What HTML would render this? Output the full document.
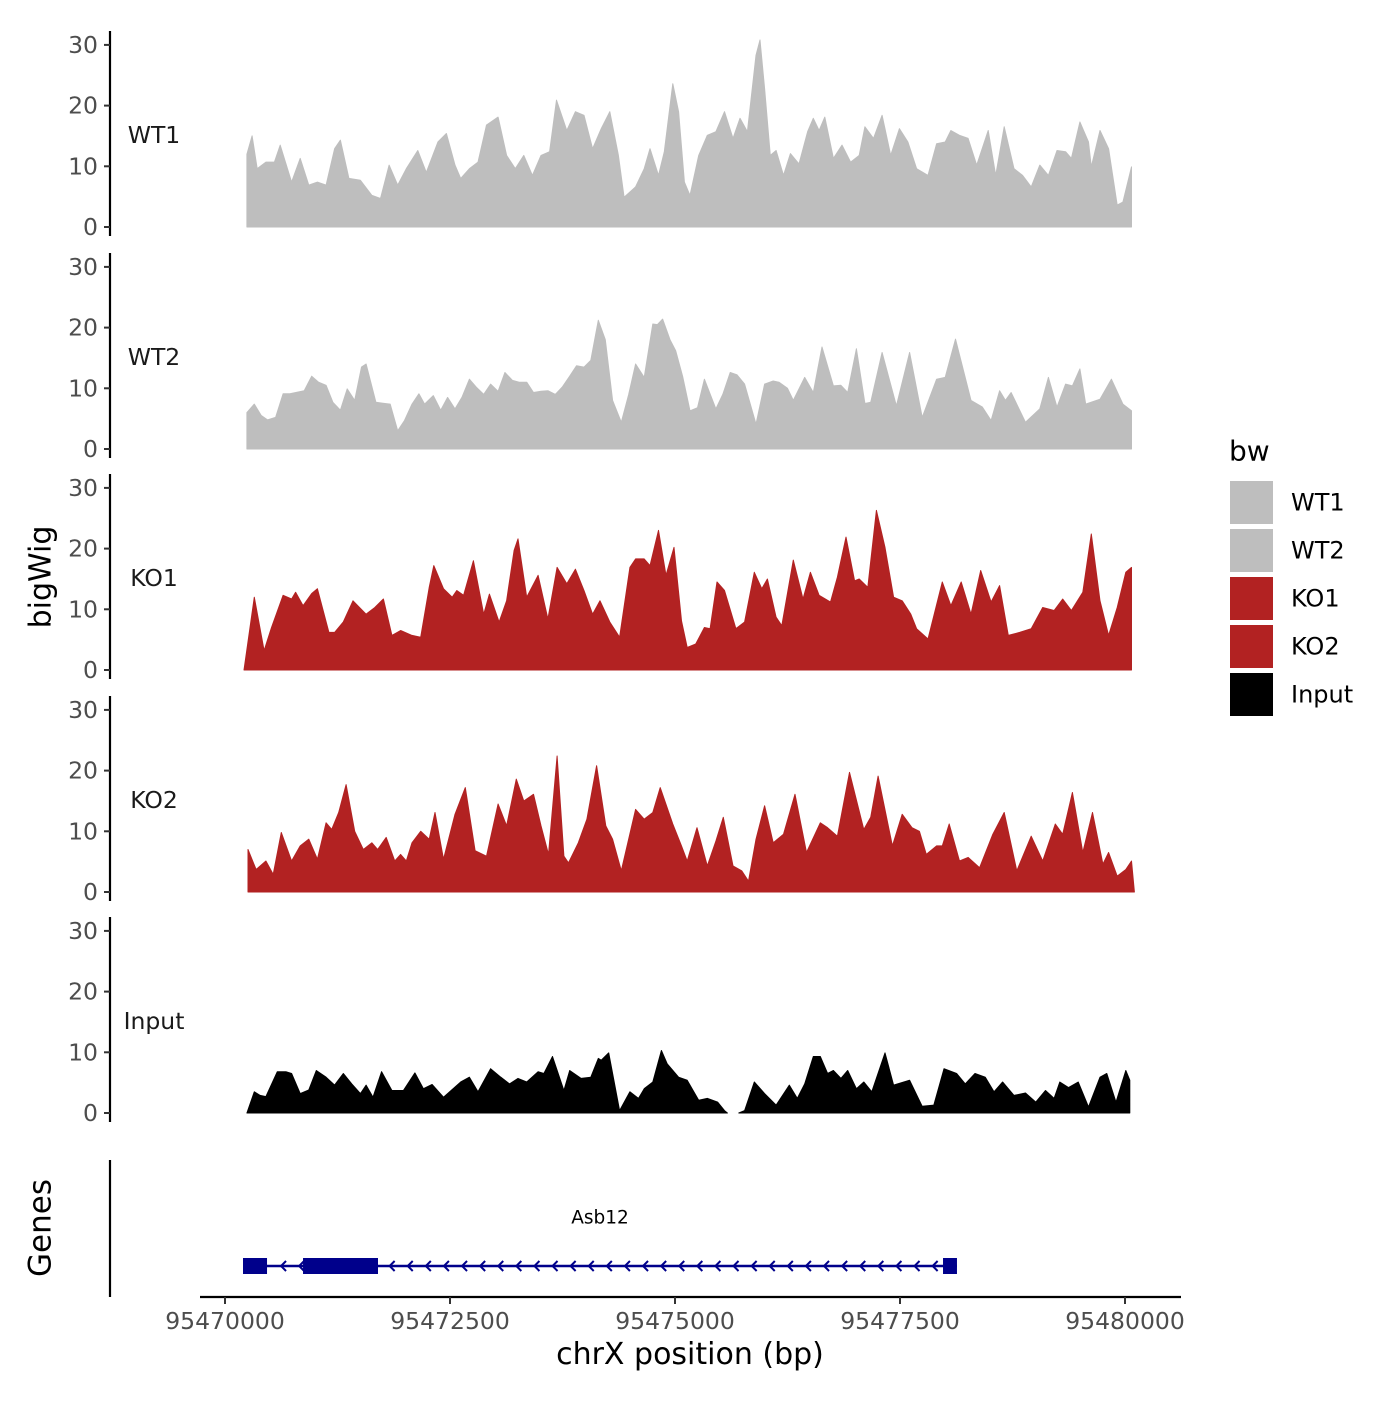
<!DOCTYPE html>
<html><head><meta charset="utf-8"><style>
body{margin:0;background:#fff;}
svg text{font-family:"DejaVu Sans","Liberation Sans",sans-serif;}
</style></head><body>
<svg id="chart" width="1400" height="1400" xmlns="http://www.w3.org/2000/svg">
<rect width="1400" height="1400" fill="#fff"/>
<g id="tracks"></g>
<g id="genes"></g>
<g id="xaxis"></g>
<text x="42" y="577" font-size="30" text-anchor="middle" dominant-baseline="middle" transform="rotate(-90 42 577)">bigWig</text>
<text x="42" y="1228" font-size="31" text-anchor="middle" dominant-baseline="middle" transform="rotate(-90 42 1228)">Genes</text>
<text x="690" y="1364" font-size="30" text-anchor="middle">chrX position (bp)</text>
<g id="legend"></g>
</svg>
<script>
const regionStart = 95470000;
const trackNames = ["WT1","WT2","KO1","KO2","Input"];
const trackColors = ["#BEBEBE","#BEBEBE","#B22222","#B22222","#000000"];
const yTicks = [0,10,20,30];
const xTicks = [95470000,95472500,95475000,95477500,95480000];
const xTickLabels = ["95470000","95472500","95475000","95477500","95480000"];

const wt1Pos = [243,301,358,454,549,613,740,836,931,1027,1123,1218,1282,1377,1505,1632,1728,1823,1919,2014,2142,2237,2365,2460,2556,2619,2715,2811,2906,3034,3129,3225,3320,3416,3511,3607,3683,3798,3893,3989,4085,4180,4276,4371,4435,4562,4658,4722,4817,4881,4976,5040,5104,5167,5263,5359,5454,5550,5645,5722,5804,5900,5945,5996,6059,6123,6206,6282,6378,6473,6537,6601,6664,6760,6856,6951,7047,7110,7206,7301,7397,7493,7588,7684,7811,7907,8002,8066,8161,8257,8352,8480,8563,8658,8767,8862,8958,9053,9149,9244,9340,9404,9499,9595,9626,9722,9818,9913,9977,10072];
const wt1Val = [12,15,9.6,10.7,10.7,13.5,7.4,11.3,6.9,7.4,6.9,12.9,14.3,8,7.7,5.2,4.7,10.2,6.9,9.6,12.6,9,14,15.4,10.2,8,9.6,10.7,16.8,18.1,11.8,9.6,11.8,8.5,11.8,12.4,20.9,15.9,19,18.4,12.9,16.2,19,11.8,4.9,6.6,9.6,12.9,8.5,12.4,23.6,19,7.4,5.2,11.8,15.1,15.7,19,14.6,17.9,15.7,28.3,30.8,22.8,11.8,12.6,8.5,12.1,10.4,15.7,17.9,15.9,18.1,11.3,13.5,10.7,11.8,16.5,14.6,18.4,11.8,16.2,14,9.6,8.5,13.7,14,15.9,15.1,14.6,10.2,15.9,8.5,16.5,9.6,8.5,6.6,10.2,8.5,12.6,12.4,11.3,17.3,14,9.9,15.9,12.9,3.6,4.1,9.9];

const wt2Pos = [243,326,403,473,562,645,721,880,963,1040,1123,1199,1282,1358,1441,1517,1568,1677,1836,1919,1995,2078,2154,2218,2314,2397,2473,2556,2632,2715,2791,2874,2951,3034,3110,3193,3269,3352,3428,3511,3588,3671,3747,3830,3906,3989,4065,4148,4225,4307,4403,4486,4562,4658,4753,4804,4862,4945,5008,5085,5167,5250,5327,5454,5531,5613,5690,5773,5900,5996,6091,6155,6250,6314,6441,6537,6633,6760,6843,6919,7015,7110,7174,7301,7460,7607,7747,7907,8002,8117,8289,8416,8512,8607,8671,8735,8894,9053,9149,9244,9340,9416,9499,9563,9722,9849,9977,10072];
const wt2Val = [6,7.4,5.5,4.8,5.2,9.1,9.1,9.6,12,11,10.5,7.7,6.4,9.9,8,13.5,14,7.7,7.4,3,4.7,7.4,9.1,7.4,8.8,6.4,8.5,6.6,8.5,11.5,10.2,9,10.7,9.5,12.6,11.3,11,11,9.3,9.5,9.6,9,10.2,12,13.7,13.5,14.6,21.2,18,8,4.4,9,14,11.8,20.6,20.5,21.4,18,16.2,12,6.3,6.8,11.5,6.6,9,12.6,12.2,10.7,4.1,10.7,11.2,11,10,8,11.8,9.3,16.8,10.4,10.5,9.3,16.5,7.5,7.7,15.9,7.1,15.9,5.2,11.5,11.8,18.1,8,6.9,4.7,9.6,8,9.3,4.4,6.6,11.8,6.9,10.7,10.4,13.2,7.4,8.2,11.5,7.4,6.3];

const ko1Pos = [211,326,435,517,645,740,785,868,963,1027,1154,1218,1314,1422,1568,1664,1760,1855,1951,2078,2174,2269,2320,2428,2524,2575,2651,2760,2874,2938,3046,3129,3212,3256,3352,3479,3588,3690,3798,3893,3989,4085,4167,4276,4384,4499,4562,4658,4722,4817,4900,4989,5072,5136,5231,5327,5390,5467,5550,5677,5773,5881,5964,6027,6123,6187,6314,6422,6505,6601,6728,6805,6900,6996,7047,7142,7238,7333,7429,7524,7620,7684,7811,7970,8066,8180,8289,8397,8512,8607,8703,8830,8958,9085,9212,9308,9404,9531,9626,9722,9818,9913,10009,10072];
const ko1Val = [0,12,3.2,7,12.3,11.7,12.8,10.6,12.6,13.4,6.2,6.2,7.9,11.4,9.2,10.3,11.7,5.7,6.5,5.7,5.4,13.6,17.2,13.4,12,13.1,12.3,18,9.2,12.5,7.9,11.4,19.7,21.6,12,15.6,8.4,16.9,14.2,16.6,13.1,9.2,11.4,7.9,5.4,16.9,18.3,18.3,17.2,23,15.6,20.2,8.1,3.7,4.3,7,6.8,14.5,13.1,6.8,7.9,16.1,13.4,15,8.7,7.3,18.1,11.7,16.1,12.3,11.2,15.3,21.9,14.7,15,13.6,26.3,20.2,12,11.4,9.2,6.8,5.1,14.5,10.6,14.5,9.2,16.4,11.2,13.9,5.7,6.2,6.8,10.3,9.8,11.7,9.8,12.8,22.4,11.4,5.7,10.3,16.1,16.9];

const ko2Pos = [256,345,454,536,626,740,836,931,1027,1123,1186,1263,1345,1441,1537,1632,1696,1791,1887,1951,2014,2078,2174,2269,2333,2428,2556,2670,2779,2906,3034,3129,3237,3320,3428,3511,3594,3690,3766,3817,3925,4021,4129,4231,4307,4403,4562,4658,4753,4836,4976,5072,5136,5244,5359,5454,5537,5645,5741,5817,5900,5996,6091,6206,6333,6461,6614,6696,6805,6939,7098,7174,7257,7416,7524,7633,7715,7792,7907,7970,8047,8161,8257,8384,8531,8658,8798,8958,9085,9225,9308,9416,9531,9639,9754,9818,9913,10009,10072,10104];
const ko2Val = [7,3.7,5.1,2.9,9.8,5.1,7.6,8.7,5.4,11.4,10.3,13.1,17.7,10,7,8.1,7,9,5.1,6.2,5.1,8.1,10,8.7,13.1,5.4,12.8,17.2,6.8,5.9,14.5,10.9,18.6,15,16.1,10.9,6.2,22.4,5.9,4.8,8.1,12,20.8,10.9,8.7,3.5,13.6,12,13.1,17.2,11.2,7.6,5.1,10.6,4.3,8.4,12.3,4.3,3.5,1.8,8.7,14.2,8.1,9.5,16.1,6.5,11.4,10.6,9.2,19.7,10.3,12.3,19.1,7.6,12.8,10.6,10,6.2,7.6,7.6,11.2,5.1,5.7,4,9.5,13.1,3.5,9.2,5.1,11.2,9.5,16.4,6.5,13.1,4.6,6.5,2.6,3.7,5.1,0];

const inputPos = [243,326,390,454,581,677,740,836,931,1014,1123,1218,1314,1409,1505,1568,1645,1740,1855,1982,2110,2205,2301,2428,2619,2715,2811,2951,3065,3161,3256,3352,3479,3543,3639,3766,3830,3957,4065,4148,4180,4263,4384,4499,4594,4658,4753,4849,4913,5040,5136,5263,5359,5473,5550,5582,null,5709,5773,5881,5996,6123,6270,6359,6441,6537,6614,6696,6760,6843,6919,7015,7098,7187,7333,7429,7607,7747,7875,7989,8129,8225,8333,8448,8544,8640,8767,8894,9009,9117,9212,9276,9372,9480,9595,9722,9798,9900,10009,10053];
const inputVal = [0,3.5,2.9,2.7,6.8,6.8,6.5,3.2,3.8,7,5.9,4.6,6.5,4.8,3.2,4.6,2.6,6.8,3.7,3.7,6.6,4,4.7,2.6,5.1,5.9,3.5,7.3,5.9,4.8,5.7,5.1,6.8,6.5,9.3,3.7,7,5.7,5.9,9,8.7,9.9,0.4,3.5,2.4,4,5.1,10.3,8.1,5.9,5.4,2.1,2.4,1.8,0.4,0,null,0,0.4,5.1,3.2,1.3,4.6,2.4,4.8,9.3,9.3,6.5,7,5.7,7,4,5.1,3.5,9.9,4.6,5.4,1.1,1.3,7.3,6.5,4.8,6.5,5.9,3.5,5.1,2.9,3.3,1.8,3.7,2.4,5.1,4.2,5.1,1,5.9,6.5,1.8,7,5.4];

const geneName = "Asb12";
const geneStart = 200, geneEnd = 8133;
const exonStarts = [200, 867, 7978];
const exonEnds = [467, 1700, 8133];

const trackPos = [wt1Pos, wt2Pos, ko1Pos, ko2Pos, inputPos];
const trackVal = [wt1Val, wt2Val, ko1Val, ko2Val, inputVal];

const NS = "http://www.w3.org/2000/svg";
function mk(tag, attrs, parent){const e=document.createElementNS(NS,tag);for(const k in attrs)e.setAttribute(k,attrs[k]);parent.appendChild(e);return e;}
function xScale(bp){return 225 + (bp - 95470000) * 0.09;}
const panelZero = [227, 449, 670, 892, 1113];
const pxPerUnit = 6.07;
function yScale(i, v){return panelZero[i] - v * pxPerUnit;}

const tracks = document.getElementById('tracks');
trackNames.forEach((name, i) => {
  const g = mk('g', {}, tracks);
  
  
  const pos = trackPos[i], val = trackVal[i];
  let segs = [[]];
  for (let j = 0; j < pos.length; j++) {
    if (pos[j] === null) { segs.push([]); continue; }
    segs[segs.length-1].push([regionStart + pos[j], val[j]]);
  }
  segs.forEach((s, si) => {
    if (!s.length) return;
    let d = 'M' + xScale(s[0][0]).toFixed(1) + ',' + panelZero[i];
    s.forEach(p => { d += 'L' + xScale(p[0]).toFixed(1) + ',' + yScale(i, p[1]).toFixed(1); });
    d += 'L' + xScale(s[s.length-1][0]).toFixed(1) + ',' + panelZero[i] + 'Z';
    const a = mk('path', {d: d, fill: trackColors[i], stroke: trackColors[i], 'stroke-width': 1, 'stroke-linejoin': 'round'}, g);
    
    
  });
  const ax = mk('line', {x1:110, x2:110, y1:panelZero[i]-196, y2:panelZero[i]+9, stroke:'#000', 'stroke-width':2.2}, g);
  
  
  yTicks.forEach(t => {
    const y = yScale(i, t);
    const tk = mk('line', {x1:104, x2:110, y1:y, y2:y, stroke:'#333', 'stroke-width':2}, g);
    
    
    const tl = mk('text', {x:98, y:y, 'font-size':23.5, fill:'#4d4d4d', 'text-anchor':'end', 'dominant-baseline':'central'}, g);
    tl.textContent = t;
    
    
  });
  const lb = mk('text', {x:154, y:panelZero[i]-92, 'font-size':23.5, fill:'#1a1a1a', 'text-anchor':'middle', 'dominant-baseline':'central'}, g);
  lb.textContent = name;
  
  
});

const genes = document.getElementById('genes');
const gaxis = mk('line', {x1:110, x2:110, y1:1160, y2:1297, stroke:'#000', 'stroke-width':2.2}, genes);


const gy = 1266;
const gl = mk('line', {x1:xScale(regionStart+geneStart), x2:xScale(regionStart+geneEnd), y1:gy, y2:gy, stroke:'#00008B', 'stroke-width':2.5}, genes);


for (let x = xScale(regionStart+exonEnds[0]) + 14; x < xScale(regionStart+exonStarts[2]) - 8; x += 18.1) {
  const ch = mk('path', {d:'M'+(x+5)+','+(gy-5)+'L'+x+','+gy+'L'+(x+5)+','+(gy+5), fill:'none', stroke:'#00008B', 'stroke-width':2}, genes);
  
  
}
exonStarts.forEach((s, k) => {
  const x1 = xScale(regionStart+s), x2 = xScale(regionStart+exonEnds[k]);
  const r = mk('rect', {x:x1, y:gy-8, width:x2-x1, height:16, fill:'#00008B'}, genes);
  
  
});
const gn = mk('text', {x:600, y:1218, 'font-size':18.5, 'text-anchor':'middle', 'dominant-baseline':'central'}, genes);
gn.textContent = geneName;



const xa = document.getElementById('xaxis');
const xl = mk('line', {x1:200, x2:1181, y1:1297, y2:1297, stroke:'#000', 'stroke-width':2.2}, xa);


xTicks.forEach((t, k) => {
  const x = xScale(t);
  const tk = mk('line', {x1:x, x2:x, y1:1297, y2:1304, stroke:'#333', 'stroke-width':2}, xa);
  
  
  const tl = mk('text', {x:x, y:1321, 'font-size':23.5, fill:'#4d4d4d', 'text-anchor':'middle', 'dominant-baseline':'central'}, xa);
  tl.textContent = xTickLabels[k];
  
  
});

const lg = document.getElementById('legend');
const lt = mk('text', {x:1229, y:451, 'font-size':28, 'dominant-baseline':'central'}, lg);
lt.textContent = 'bw';


trackNames.forEach((name, k) => {
  const y = 480 + k * 48;
  const r = mk('rect', {x:1229, y:y, width:45, height:45, fill:trackColors[k], stroke:'#fff', 'stroke-width':2}, lg);
  
  
  const t = mk('text', {x:1291, y:y+22.5, 'font-size':24, 'dominant-baseline':'central'}, lg);
  t.textContent = name;
  
  
});
</script>
</body></html>
